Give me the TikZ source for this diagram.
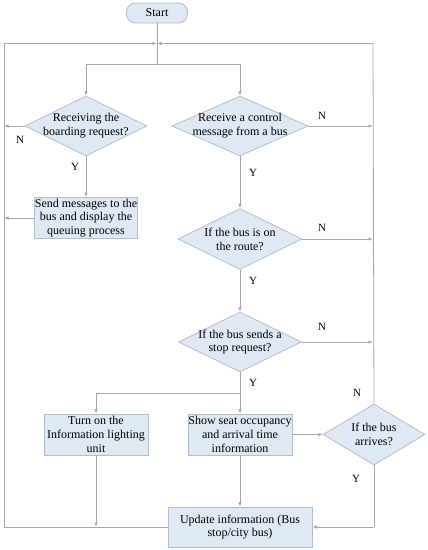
\documentclass[tikz,border=0pt]{standalone}
\usepackage{fontspec}
\setmainfont{Liberation Serif}
\newfontfamily\diagfont{Liberation Serif}
\usetikzlibrary{shapes.geometric,arrows.meta}
\definecolor{boxfill}{HTML}{DFE8F5}
\definecolor{boxdraw}{HTML}{B8BEC8}
\definecolor{linecol}{HTML}{A8A8A8}
\tikzset{
  txtfont/.style={font=\diagfont\fontsize{12}{13.8}\selectfont},
  base/.style={draw=boxdraw, fill=boxfill, line width=0.8pt, align=center, inner sep=0pt, txtfont},
  dshape/.style={base, diamond, aspect=1, inner sep=0pt},
  dtext/.style={align=center, inner sep=0pt, txtfont},
  conn/.style={draw=linecol, line width=0.8pt},
  arr/.style={conn, -{Latex[length=4.5pt,width=3.5pt]}},
  lab/.style={font=\diagfont\fontsize{11}{12}\selectfont, inner sep=0pt},
  startbox/.style={base, rounded corners=9pt, minimum width=61pt, minimum height=20pt},
}
\begin{document}
\begin{tikzpicture}[x=1pt,y=-1pt]
\path[use as bounding box] (0,0) rectangle (428,550);
\fill[white] (0,0) rectangle (428,550);

\node[startbox] (start) at (157,13) {Start};

\coordinate (j) at (157,43.5);
\coordinate (lt) at (4,43.5);
\coordinate (rt) at (373,43.5);
\coordinate (split) at (157,64);
\coordinate (splitL) at (86,64);
\coordinate (splitR) at (240,64);

\node[dshape, minimum width=122pt, minimum height=60pt] (d1) at (86,126) {};
\node[dtext] (t1) at (d1.center) {Receiving the\\boarding request?};
\node[dshape, minimum width=136pt, minimum height=60pt] (d2) at (240,126) {};
\node[dtext] (t2) at (d2.center) {Receive a control\\message from a bus};
\node[base, rectangle, minimum width=103pt, minimum height=41pt] (b1) at (86,218) {Send messages to the\\bus and display the\\queuing process};
\node[dshape, minimum width=124pt, minimum height=61pt] (d3) at (240,239) {};
\node[dtext] (t3) at (d3.center) {If the bus is on\\the route?};
\node[dshape, minimum width=123pt, minimum height=60pt] (d4) at (240,342) {};
\node[dtext] (t4) at (d4.center) {If the bus sends a\\stop request?};
\node[base, rectangle, minimum width=104pt, minimum height=41pt] (b2) at (96,434.5) {Turn on the\\Information lighting\\unit};
\node[base, rectangle, minimum width=104pt, minimum height=41pt] (b3) at (240,434.5) {Show seat occupancy\\and arrival time\\information};
\node[dshape, minimum width=102pt, minimum height=61pt] (d5) at (374,434.5) {};
\node[dtext] (t5) at (d5.center) {If the bus\\arrives?};
\node[base, rectangle, minimum width=144pt, minimum height=40pt] (b4) at (240,527) {Update information (Bus\\stop/city bus)};

% start to junction
\draw[conn] (start.south) -- (split);
\draw[arr] (lt) -- (j);
\draw[arr] (rt) -- (j);
\draw[conn] (splitL) -- (splitR);
\draw[arr] (splitL) -- (d1.north);
\draw[arr] (splitR) -- (d2.north);

% left column
\coordinate (l1) at (4,126);
\coordinate (l2) at (4,218);
\draw[arr] (d1.west) -- (l1);
\node[lab] at (20,140) {N};
\draw[arr] (d1.south) -- (b1.north);
\node[lab] at (75,167) {Y};
\draw[arr] (b1.west) -- (l2);

% right column
\coordinate (r1) at (373,126);
\coordinate (r2) at (373,239);
\coordinate (r3) at (373,342);
\draw[arr] (d2.east) -- (r1);
\node[lab] at (322,116) {N};
\draw[arr] (d2.south) -- (d3.north);
\node[lab] at (253,173) {Y};
\draw[arr] (d3.east) -- (r2);
\node[lab] at (322,228) {N};
\draw[arr] (d3.south) -- (d4.north);
\node[lab] at (253,281) {Y};
\draw[arr] (d4.east) -- (r3);
\node[lab] at (322,327) {N};

% lower part
\coordinate (s2) at (240,393);
\coordinate (s2L) at (96,393);
\draw[conn] (d4.south) -- (s2);
\node[lab] at (253,383) {Y};
\draw[conn] (s2L) -- (s2);
\draw[arr] (s2L) -- (b2.north);
\draw[arr] (s2) -- (b3.north);
\draw[arr] (b3.east) -- (d5.west);
\draw[arr] (b3.south) -- (b4.north);

% right loop line
\draw[conn] (d5.north) -- (rt);
\node[lab] at (357,393) {N};

% arrives Y
\coordinate (ybot) at (374,527);
\draw[conn] (d5.south) -- (ybot);
\draw[arr] (ybot) -- (b4.east);
\node[lab] at (356,479) {Y};

% left loop line
\coordinate (lb) at (4,527);
\coordinate (tb) at (96,527);
\draw[conn] (b4.west) -- (lb) -- (lt);
\draw[arr] (b2.south) -- (tb);
\end{tikzpicture}
\end{document}
